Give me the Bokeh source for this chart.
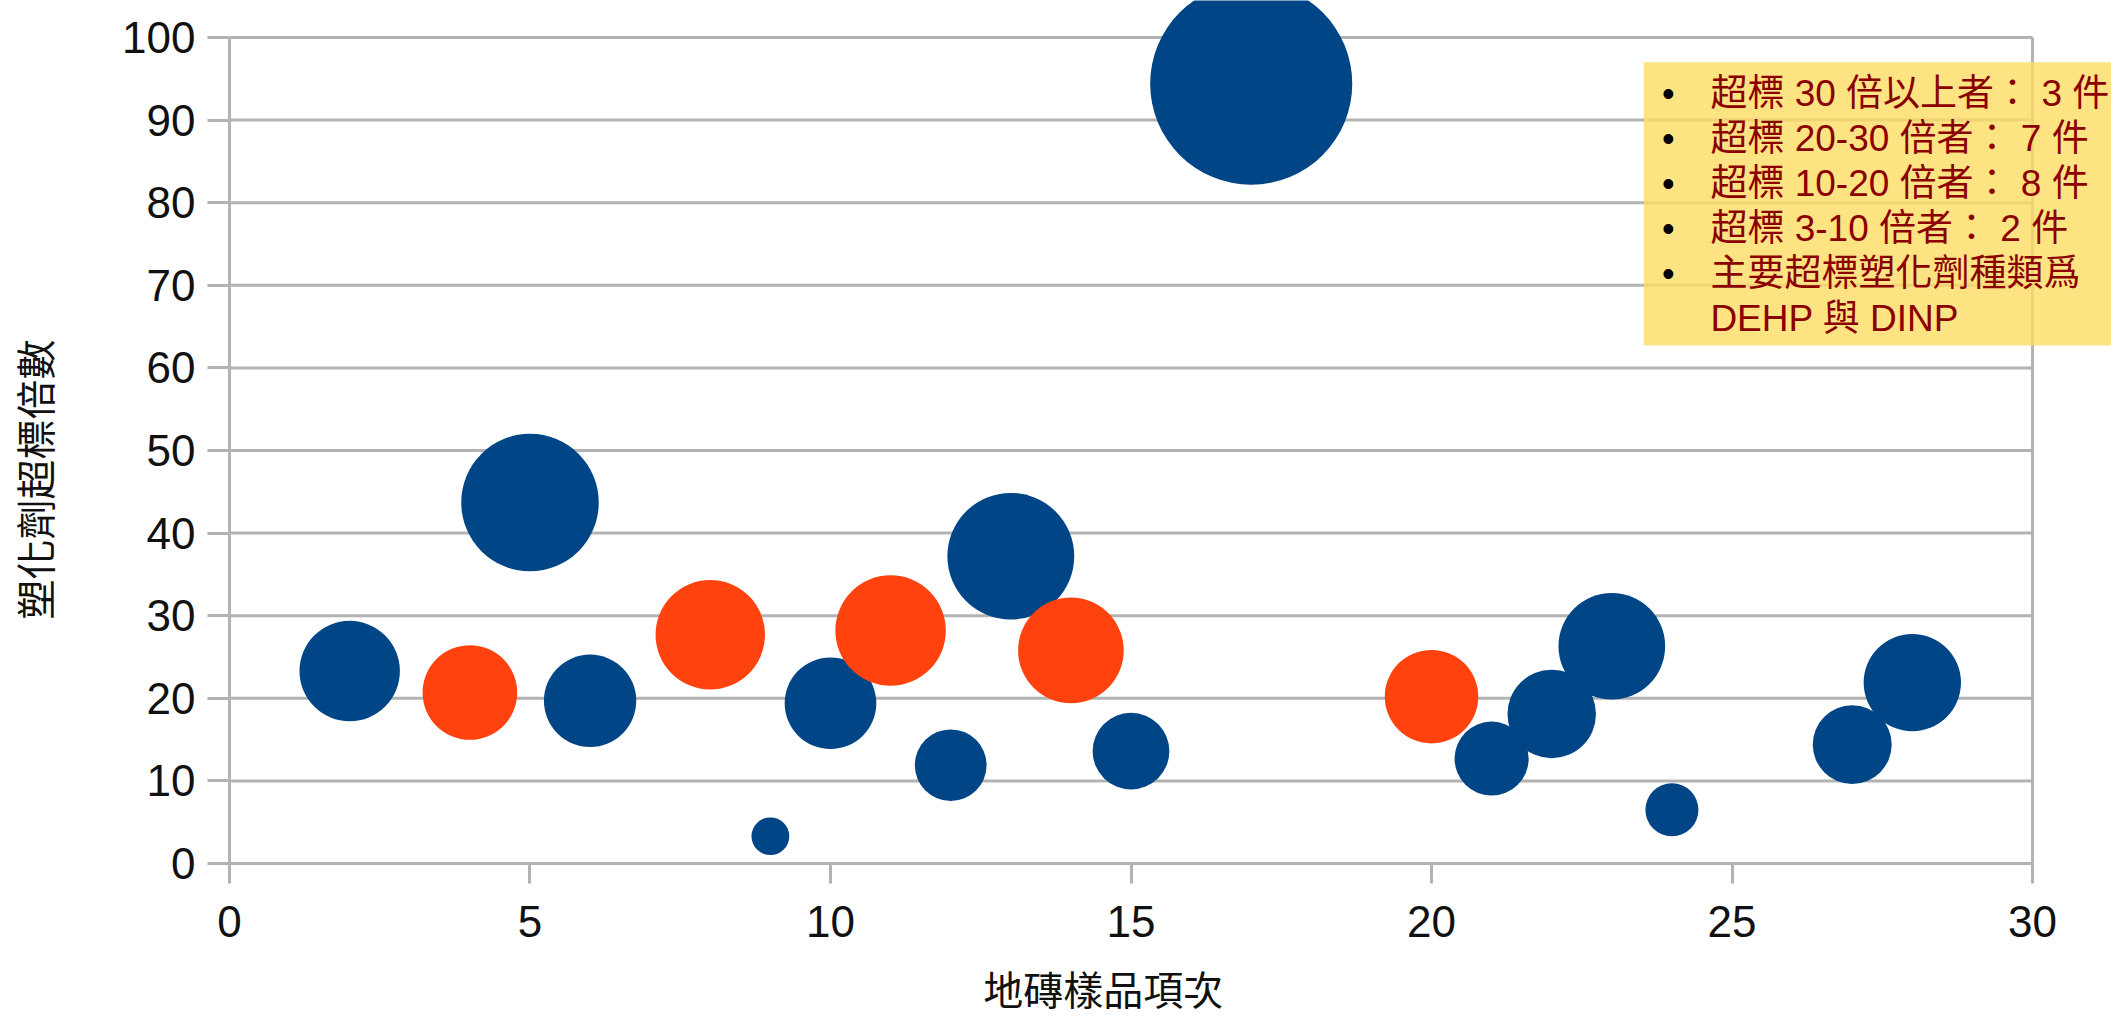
import math
from bokeh.plotting import figure
from bokeh.models import Range1d, FixedTicker, Label
from bokeh.core.properties import value
from bokeh.embed import file_html
from bokeh.resources import INLINE

# ---- data ----
blue_x = [2, 5, 6, 9, 10, 12, 13, 15, 17, 21, 22, 23, 24, 27, 28]
blue_y = [23.3, 43.7, 19.7, 3.3, 19.4, 11.9, 37.2, 13.6, 94.4, 12.7, 18.1, 26.3, 6.5, 14.4, 21.9]
blue_size = [23.3, 43.7, 19.7, 3.3, 19.4, 11.9, 37.2, 13.6, 94.4, 12.7, 18.1, 26.3, 6.5, 14.4, 21.9]

orange_x = [4, 8, 11, 14, 20]
orange_y = [20.7, 27.7, 28.2, 25.8, 20.2]
orange_size = [20.7, 27.7, 28.2, 25.8, 20.2]

x_ticks = [0, 5, 10, 15, 20, 25, 30]
y_ticks = [0, 10, 20, 30, 40, 50, 60, 70, 80, 90, 100]

x_title = "地磚樣品項次"
y_title = "塑化劑超標倍數"

note_lines = [
    "超標 30 倍以上者： 3 件",
    "超標 20-30 倍者： 7 件",
    "超標 10-20 倍者： 8 件",
    "超標 3-10 倍者： 2 件",
    "主要超標塑化劑種類爲",
    "DEHP 與 DINP",
]
note_bullets = [True, True, True, True, True, False]

# ---- styling ----
BLUE = "#004586"
ORANGE = "#ff420e"
GRID = "#b3b3b3"
SANS = "Liberation Sans, Noto Sans CJK TC"
CJK = "Noto Sans CJK TC"
K = 20.8  # px per sqrt(size unit)

p = figure(width=2111, height=1019,
           x_range=Range1d(-3.810, 31.314), y_range=Range1d(-18.886, 104.479),
           output_backend="svg", toolbar_location=None,
           min_border_left=0, min_border_right=0,
           min_border_top=0, min_border_bottom=0)
p.outline_line_color = None
p.background_fill_color = "white"
p.border_fill_color = "white"
p.xgrid.visible = False
p.ygrid.visible = False

for ax, ticks, bnd in ((p.xaxis[0], x_ticks, (0, 30)), (p.yaxis[0], y_ticks, (0, 100))):
    ax.ticker = FixedTicker(ticks=ticks)
    ax.bounds = bnd
    ax.fixed_location = 0
    ax.axis_line_color = GRID
    ax.axis_line_width = 3
    ax.major_tick_line_color = GRID
    ax.major_tick_line_width = 3
    ax.major_tick_in = 0
    ax.minor_tick_line_color = None
    ax.major_label_text_font = SANS
    ax.major_label_text_font_size = "44px"
    ax.major_label_text_color = "#111111"
p.xaxis.major_tick_out = 20
p.xaxis.major_label_standoff = 22
p.yaxis.major_tick_out = 22
p.yaxis.major_label_standoff = 12

# gridlines (from tick values) and right border
gy = [t for t in y_ticks if t > 0]
p.segment(x0=[x_ticks[0]] * len(gy), x1=[x_ticks[-1]] * len(gy), y0=gy, y1=gy,
          line_color=GRID, line_width=3)
p.segment(x0=[x_ticks[-1]], x1=[x_ticks[-1]], y0=[y_ticks[0]], y1=[y_ticks[-1]],
          line_color=GRID, line_width=3)

# note box
p.quad(left=[23.53], right=[31.314], top=[97.0], bottom=[62.7],
       fill_color="#fcdc63", fill_alpha=0.8, line_color=None)

# bubbles
p.scatter(blue_x, blue_y, size=[K * math.sqrt(s) for s in blue_size],
          fill_color=BLUE, line_color=None)
p.scatter(orange_x, orange_y, size=[K * math.sqrt(s) for s in orange_size],
          fill_color=ORANGE, line_color=None)

# note text
line_y = [93.22 - 5.45 * i for i in range(len(note_lines))]
bx = [23.94 for b in note_bullets if b]
by = [y for y, b in zip(line_y, note_bullets) if b]
p.text(x=bx, y=by, text=["•"] * len(bx), text_font=value(SANS), text_font_size="36px",
       text_color="black", text_baseline="middle", text_align="center")
p.text(x=[24.64] * len(note_lines), y=line_y, text=note_lines, text_font=value(SANS),
       text_font_size="37px", text_color="#8b0000", text_baseline="middle", text_align="left")

# axis titles
p.add_layout(Label(x=14.54, y=-15.05, text=x_title, text_align="center", text_baseline="middle",
                   text_font=CJK, text_font_size="40px", text_color="#111111"))
p.add_layout(Label(x=-3.26, y=46.49, text=y_title, angle=math.pi / 2, text_align="center",
                   text_baseline="middle", text_font=CJK, text_font_size="40px",
                   text_color="#111111"))

open("out.html", "w").write(file_html(p, INLINE))
